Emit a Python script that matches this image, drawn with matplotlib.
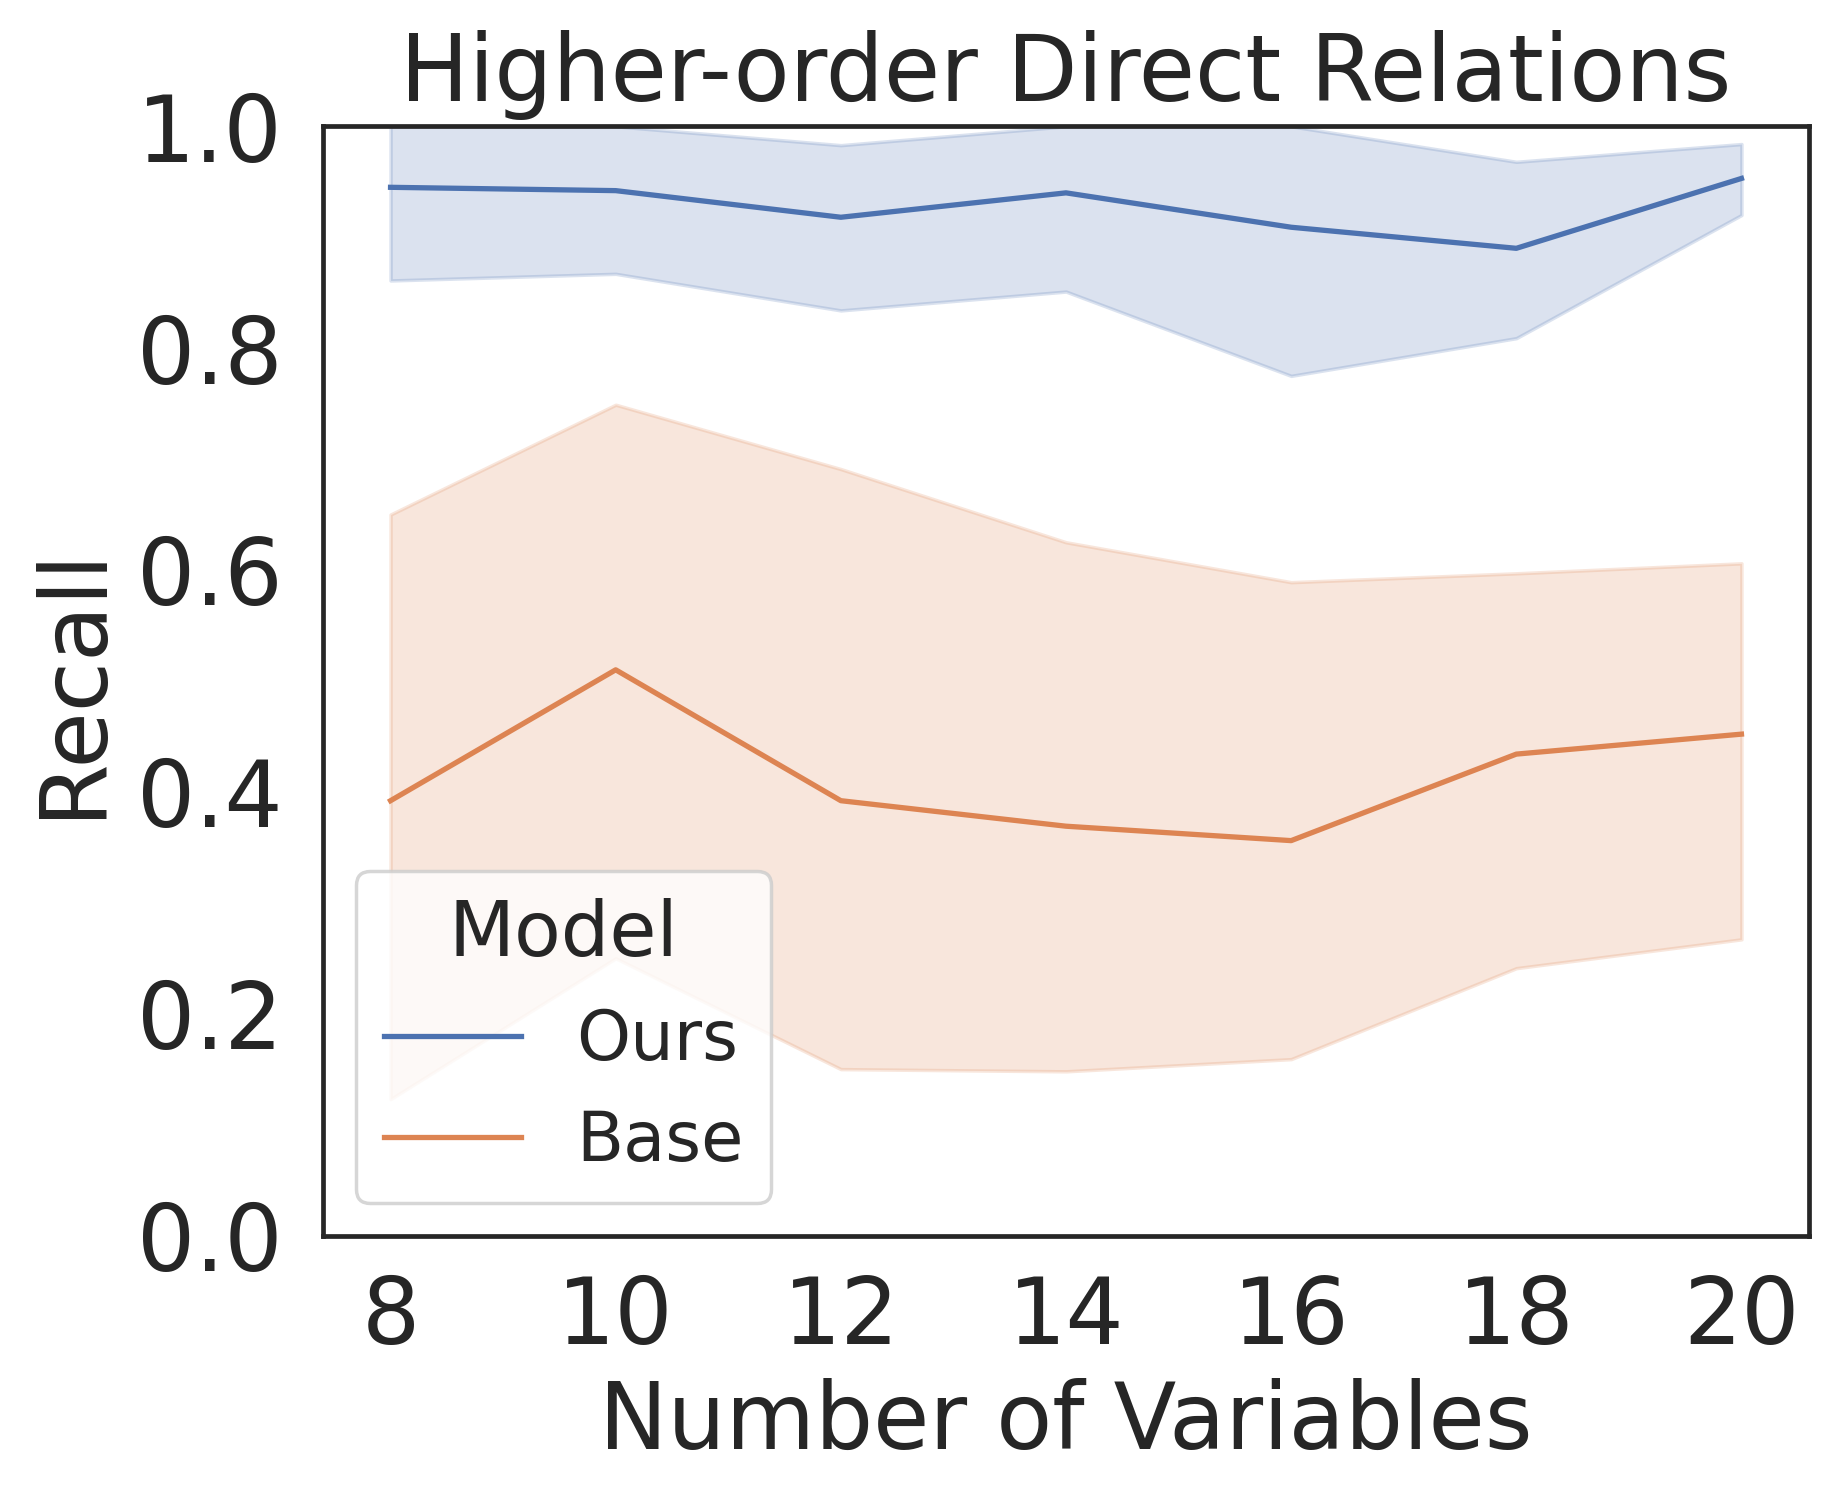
import matplotlib
matplotlib.use("Agg")
import matplotlib.pyplot as plt

num_vars = [8, 10, 12, 14, 16, 18, 20]
models = ["Ours", "Base"]

ours_mean = [0.945, 0.942, 0.918, 0.940, 0.909, 0.890, 0.953]
ours_upper = [1.000, 1.000, 0.983, 1.000, 1.000, 0.968, 0.984]
ours_lower = [0.861, 0.867, 0.834, 0.851, 0.775, 0.809, 0.920]

base_mean = [0.392, 0.510, 0.392, 0.369, 0.356, 0.434, 0.452]
base_upper = [0.650, 0.749, 0.691, 0.625, 0.589, 0.597, 0.606]
base_lower = [0.123, 0.250, 0.150, 0.148, 0.159, 0.241, 0.267]

colors = {"Ours": "#4C72B0", "Base": "#DD8452"}
text_color = "#262626"

plt.rcParams["font.family"] = ["DejaVu Sans"]
plt.rcParams["text.color"] = text_color

fig = plt.figure(figsize=(18.4, 15.01), dpi=100)
ax = fig.add_axes([323 / 1840, 1 - 1235.5 / 1501, (1809 - 323) / 1840, (1235.5 - 126.3) / 1501])

series = {
    "Ours": (ours_mean, ours_lower, ours_upper),
    "Base": (base_mean, base_lower, base_upper),
}
for name in models:
    mean, lo, hi = series[name]
    c = colors[name]
    ax.fill_between(num_vars, lo, hi, color=c, alpha=0.2, linewidth=2.5)
    ax.plot(num_vars, mean, color=c, linewidth=3.8, label=name)

ax.set_xlim(7.4, 20.6)
ax.set_ylim(0, 1)
ax.set_xticks(num_vars)
ax.set_yticks([0.0, 0.2, 0.4, 0.6, 0.8, 1.0])
ax.set_yticklabels(["0.0", "0.2", "0.4", "0.6", "0.8", "1.0"])

for s in ax.spines.values():
    s.set_linewidth(3.4)
    s.set_color(text_color)

ax.tick_params(axis="x", length=0, pad=27, labelsize=66, colors=text_color)
ax.tick_params(axis="y", length=0, pad=29, labelsize=66, colors=text_color)

ax.set_title("Higher-order Direct Relations", fontsize=66, pad=18, color=text_color)
ax.set_xlabel("Number of Variables", fontsize=66, labelpad=11, color=text_color)
ax.set_ylabel("Recall", fontsize=66, labelpad=14, color=text_color)

leg = ax.legend(title="Model", loc="lower left", fontsize=49.5, title_fontsize=55,
                frameon=True, fancybox=True, framealpha=0.8, edgecolor="0.8",
                handlelength=2.0, handletextpad=0.8, borderaxespad=0.48)
leg.get_frame().set_linewidth(2.5)
for line in leg.get_lines():
    line.set_linewidth(3.8)

fig.savefig("out.png", dpi=100)
